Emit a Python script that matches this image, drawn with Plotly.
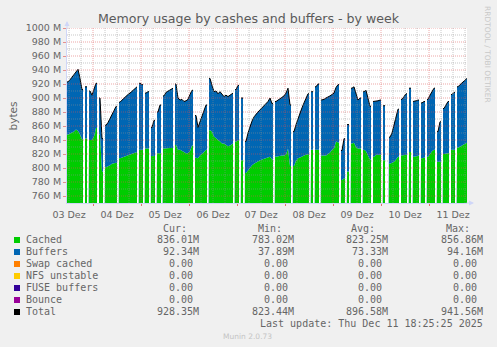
import plotly.graph_objects as go
import pandas as pd

# ---------------- data (hourly samples, None = no data) ----------------
start = pd.Timestamp("2025-12-03 11:00")
step = pd.Timedelta(hours=1)

cached = [
    848, 849, 850, 852, 855, 853, 848, 841, None, 842,
    None, 840, 840, 845, 857, None, 848, 795, None, 801,
    802, 804, 806, 807, 808, None, 814, 815, 817, 818,
    819, 820, 821, 822, 823, None, 826, 826, None, 828,
    828, None, 817, 818, None, 821, 821, None, 828, 828,
    828, 828, 829, None, 833, 826, 826, 825, 823, 821,
    821, 824, 832, None, 815, 814, 818, 820, 823, 826,
    None, 854, 852, 845, 842, 840, 838, 835, 835, 833,
    831, 832, 835, None, 838, 840, None, 811, None, 793,
    797, 801, 804, 806, 808, 809, 811, 812, 813, 814,
    815, 816, 812, None, 816, 817, 817, 818, 818, 819,
    828, 803, None, 803, 810, 814, 815, 817, 818, 819,
    820, None, 826, None, 826, 826, None, 818, 818, 818,
    820, 822, 826, 828, 838, 836, None, 783, 786, None,
    795, None, 835, 836, 830, 828, 828, None, 826, 824,
    818, 812, None, 816, 819, 819, 819, None, 811, None,
    None, 806, 807, 809, 812, 816, None, 818, 818, 819,
    None, 823, None, 816, 817, 818, None, 814, 815, None,
    816, 820, 824, 826, None, 809, 809, None, 820, 821,
    821, None, 826, 826, None, 829, 830, 832, 834, 836,
]

buffers = [
    75, 77, 80, 81, 82, 88, 80, 71, None, 74,
    None, 70, 64, 67, 64, None, 52, 47, None, 60,
    63, 66, 70, 75, 80, None, 80, 82, 83, 85,
    86, 87, 89, 91, 93, None, 95, 93, None, 79,
    81, None, 41, 50, None, 59, 69, None, 75, 80,
    82, 84, 85, None, 87, 74, 71, 73, 72, 75,
    77, 81, 79, None, 60, 44, 48, 54, 59, 64,
    None, 74, 66, 64, 68, 66, 71, 70, 67, 71,
    71, 72, 72, None, 74, 78, None, 89, None, 45,
    53, 59, 63, 67, 69, 71, 72, 74, 76, 78,
    80, 84, 80, None, 79, 80, 82, 83, 85, 88,
    86, 87, None, 49, 52, 57, 64, 69, 75, 80,
    86, None, 83, None, 90, 94, None, 79, 80, 82,
    81, 81, 79, 79, 77, 83, None, 42, 56, None,
    67, None, 79, 80, 75, 69, 72, None, 83, 87,
    82, 76, None, 79, 76, 77, 78, None, 78, None,
    None, 38, 43, 53, 61, 68, None, 80, 84, 87,
    None, 91, None, 79, 79, 79, None, 79, 80, None,
    82, 84, 85, 88, None, 43, 57, None, 65, 69,
    74, None, 79, 82, None, 87, 89, 90, 91, 92,
]

y_ticks = list(range(760, 1001, 20))
day_labels = ["03 Dez", "04 Dez", "05 Dez", "06 Dez", "07 Dez",
              "08 Dez", "09 Dez", "10 Dez", "11 Dez"]

legend_names = ["Cached", "Buffers", "Swap cached", "NFS unstable",
                "FUSE buffers", "Bounce", "Total"]
legend_colors = ["#00CC00", "#0066B3", "#FF8000", "#FFCC00",
                 "#330099", "#990099", "#000000"]
cur_vals = ["836.01M", "92.34M", "0.00", "0.00", "0.00", "0.00", "928.35M"]
min_vals = ["783.02M", "37.89M", "0.00", "0.00", "0.00", "0.00", "823.44M"]
avg_vals = ["823.25M", "73.33M", "0.00", "0.00", "0.00", "0.00", "896.58M"]
max_vals = ["856.86M", "94.16M", "0.00", "0.00", "0.00", "0.00", "941.56M"]

# ---------------- geometry helpers ----------------
W, H = 497, 347
L, R, T, B = 67, 467, 28, 203


def pxx(x):
    return (x - L) / (R - L)


def pyy(y):
    return (B - y) / (B - T)


n = len(cached)
times = [start + i * step for i in range(n)]
end = start + n * step
half = step / 2

totals = [(c + b) if (c is not None and b is not None) else None
          for c, b in zip(cached, buffers)]

# runs of consecutive valid samples
runs = []
i = 0
while i < n:
    if totals[i] is None:
        i += 1
        continue
    j = i
    while j + 1 < n and totals[j + 1] is not None:
        j += 1
    runs.append((i, j))
    i = j + 1


def area_path(vals):
    xs, ys = [], []
    for a, b in runs:
        xs += [times[a], times[a]]
        ys += [0, vals[a]]
        for k in range(a, b + 1):
            xs.append(times[k] + half)
            ys.append(vals[k])
        xs += [times[b] + step, times[b] + step]
        ys += [vals[b], 0]
    return xs, ys


def line_path(vals):
    xs, ys = [], []
    for a, b in runs:
        xs.append(times[a])
        ys.append(vals[a])
        for k in range(a, b + 1):
            xs.append(times[k] + half)
            ys.append(vals[k])
        xs += [times[b] + step, None]
        ys += [vals[b], None]
    return xs, ys


cx, cy = area_path(cached)
tx, ty = area_path(totals)
lx, ly = line_path(totals)

fig = go.Figure()
fig.add_trace(go.Scatter(x=cx, y=cy, mode="lines", line=dict(width=0),
                         fill="tozeroy", fillcolor="#00CC00",
                         hoverinfo="skip", showlegend=False))
fig.add_trace(go.Scatter(x=tx, y=ty, mode="lines", line=dict(width=0),
                         fill="tonexty", fillcolor="#0066B3",
                         hoverinfo="skip", showlegend=False))
fig.add_trace(go.Scatter(x=lx, y=ly, mode="lines", xaxis="x2",
                         line=dict(width=1, color="#000000"),
                         connectgaps=False, hoverinfo="skip",
                         showlegend=False))

# ---------------- grid as overlay shapes (rrdtool draws grid over data) ----
shapes = []
GRID = "rgba(143,143,143,0.5)"
MGRID = "rgba(222,79,79,0.5)"
for v in range(760, 1001, 10):
    major = v in y_ticks
    shapes.append(dict(type="line", xref="paper", yref="y", x0=0, x1=1,
                       y0=v, y1=v, layer="above",
                       line=dict(color=MGRID if major else GRID, width=1,
                                 dash="1px,1px")))
t = start.ceil("6h")
while t < end:
    major = (t.hour == 0)
    shapes.append(dict(type="line", xref="x", yref="paper", x0=t, x1=t,
                       y0=0, y1=1, layer="above",
                       line=dict(color=MGRID if major else GRID, width=1,
                                 dash="1px,1px")))
    t += pd.Timedelta(hours=6)

# legend squares
ROW0 = 240
ROWSTEP = 12
for k, col in enumerate(legend_colors):
    yc = ROW0 + k * ROWSTEP
    shapes.append(dict(type="rect", xref="paper", yref="paper",
                       x0=pxx(14), x1=pxx(20), y0=pyy(yc + 3), y1=pyy(yc - 3),
                       fillcolor=col, line=dict(width=0)))

# ---------------- annotations ----------------
FONT = "DejaVu Sans, Verdana, sans-serif"
MONO = "DejaVu Sans Mono, monospace"
FC = "#666666"
ann = []


def txt(x, y, s, anchor="left", size=10, family=MONO, color=FC, angle=0):
    ann.append(dict(x=pxx(x), y=pyy(y), xref="paper", yref="paper", text=s,
                    showarrow=False, xanchor=anchor, yanchor="middle",
                    textangle=angle, borderpad=0,
                    font=dict(family=family, size=size, color=color)))


# header
txt(188, 228, "Cur:", "right")
txt(283, 228, "Min:", "right")
txt(376, 228, "Avg:", "right")
txt(471, 228, "Max:", "right")
col_right = [200, 295, 389, 484]
for k, name in enumerate(legend_names):
    yc = ROW0 + k * ROWSTEP - 0.5
    txt(25, yc, name, "left")
    for cr, vals in zip(col_right, [cur_vals, min_vals, avg_vals, max_vals]):
        s = vals[k]
        xr = cr if s.endswith("M") else cr - 6
        txt(xr, yc, s, "right")
txt(484, 323.5, "Last update: Thu Dec 11 18:25:25 2025", "right")
txt(247, 336, "Munin 2.0.73", "center", size=7.5, family=FONT, color="#c4c4c4")
txt(488, 54, "RRDTOOL / TOBI OETIKER", "center", size=7.5, family=FONT,
    color="#c8c8c8", angle=90)
txt(12, 115.5, "bytes", "center", size=10.5, family=FONT, angle=-90)

# axis arrows
AX = "#CFD6F8"
ann.append(dict(x=0, y=pyy(21), xref="paper", yref="paper", text="",
                showarrow=True, ax=0, ay=9, axref="pixel", ayref="pixel",
                arrowhead=2, arrowsize=1, arrowwidth=1, arrowcolor=AX))
ann.append(dict(x=pxx(474), y=0, xref="paper", yref="paper", text="",
                showarrow=True, ax=-9, ay=0, axref="pixel", ayref="pixel",
                arrowhead=2, arrowsize=1, arrowwidth=1, arrowcolor=AX))

noons = [pd.Timestamp(f"2025-12-{d:02d} 12:00") for d in range(3, 12)]
midnights = [pd.Timestamp(f"2025-12-{d:02d} 00:00") for d in range(4, 12)]

fig.update_layout(
    width=W, height=H,
    margin=dict(l=L, r=W - R, t=T, b=H - B, pad=0),
    paper_bgcolor="#F0F0F0", plot_bgcolor="#FFFFFF",
    showlegend=False,
    title=dict(text="Memory usage by cashes and buffers - by week",
               x=0.5, xref="container", xanchor="center",
               y=1 - 19 / H, yref="container", yanchor="middle",
               font=dict(family=FONT, size=12.6, color="#5a5a5a")),
    xaxis=dict(type="date", range=[start, end], showgrid=False,
               zeroline=False, showline=True, linecolor=AX, linewidth=1,
               tickmode="array", tickvals=midnights, showticklabels=False,
               ticks="outside", ticklen=2, tickcolor="rgba(222,79,79,0.8)",
               fixedrange=True),
    xaxis2=dict(type="date", range=[start, end], overlaying="x",
                anchor="y", side="bottom", showgrid=False, zeroline=False,
                showline=False, tickmode="array", tickvals=noons,
                ticktext=day_labels, ticks="", ticklabelstandoff=4,
                tickfont=dict(family=FONT, size=9.5, color=FC)),
    yaxis=dict(range=[750, 1000], showgrid=False, zeroline=False,
               showline=True, linecolor=AX, linewidth=1,
               tickmode="array", tickvals=y_ticks,
               ticktext=[f"{v} M" for v in y_ticks],
               ticks="outside", ticklen=3, tickcolor="rgba(222,79,79,0.6)",
               tickfont=dict(family=FONT, size=9.5, color=FC),
               fixedrange=True),
    shapes=shapes,
    annotations=ann,
)

fig.write_html("out.html")
